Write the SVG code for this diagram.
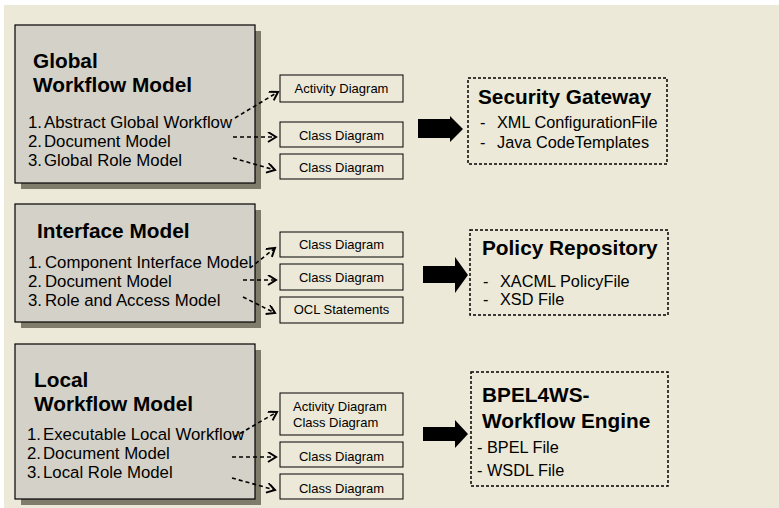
<svg xmlns="http://www.w3.org/2000/svg" width="779" height="508" viewBox="0 0 779 508">
<defs>
<style>
.bg{fill:#ECE9D8}
.model{fill:#D4D2C8;stroke:#000;stroke-width:1.2}
.shadow{fill:#7F7C6C}
.art{fill:#ECE9D8;stroke:#000;stroke-width:1}
.tgt{fill:none;stroke:#000;stroke-width:1.5;stroke-dasharray:3,2}
.t{font-family:"Liberation Sans",Arial,sans-serif;fill:#000}
.title{font-size:20.8px;font-weight:bold}
.item{font-size:16.8px}
.item2{font-size:16.3px}
.small{font-size:13px}
.dash{fill:none;stroke:#000;stroke-width:1.6;stroke-dasharray:4,3}
.block{fill:#000}
</style>
<marker id="oh" markerWidth="12" markerHeight="12" refX="9" refY="5" orient="auto" markerUnits="userSpaceOnUse">
<path d="M1,0 L9,5 L1,10" fill="none" stroke="#000" stroke-width="2"/>
</marker>
</defs>
<rect x="0" y="0" width="779" height="508" fill="#fff"/>
<rect class="bg" x="4" y="5" width="775" height="503"/>

<g id="global-model">
<rect class="shadow" x="21" y="31" width="240" height="158"/>
<rect class="model" x="15" y="25" width="240" height="158"/>
<text class="t title" x="33" y="68">Global</text>
<text class="t title" x="33" y="92">Workflow Model</text>
<text class="t item" x="28" y="128">1.</text><text class="t item" x="44" y="128">Abstract Global Workflow</text>
<text class="t item" x="28" y="147">2.</text><text class="t item" x="44" y="147">Document Model</text>
<text class="t item" x="28" y="166">3.</text><text class="t item" x="44" y="166">Global Role Model</text>
</g>

<g id="interface-model">
<rect class="shadow" x="21" y="210" width="240" height="118"/>
<rect class="model" x="15" y="204" width="240" height="118"/>
<text class="t title" x="37" y="238">Interface Model</text>
<text class="t item" x="28" y="268">1.</text><text class="t item" x="45" y="268">Component Interface Model</text>
<text class="t item" x="28" y="287">2.</text><text class="t item" x="45" y="287">Document Model</text>
<text class="t item" x="28" y="306">3.</text><text class="t item" x="45" y="306">Role and Access Model</text>
</g>

<g id="local-model">
<rect class="shadow" x="21" y="350" width="240" height="155"/>
<rect class="model" x="15" y="344" width="240" height="155"/>
<text class="t title" x="34" y="387">Local</text>
<text class="t title" x="34" y="411">Workflow Model</text>
<text class="t item" x="27" y="440">1.</text><text class="t item" x="43" y="440">Executable Local Workflow</text>
<text class="t item" x="27" y="459">2.</text><text class="t item" x="43" y="459">Document Model</text>
<text class="t item" x="27" y="478">3.</text><text class="t item" x="43" y="478">Local Role Model</text>
</g>

<g id="g-activity"><rect class="art" x="280" y="75" width="123" height="27"/><text class="t small" x="341.5" y="93" text-anchor="middle">Activity Diagram</text></g>
<g id="g-class1"><rect class="art" x="280" y="122" width="123" height="25"/><text class="t small" x="341.5" y="140" text-anchor="middle">Class Diagram</text></g>
<g id="g-class2"><rect class="art" x="280" y="154" width="123" height="25"/><text class="t small" x="341.5" y="172" text-anchor="middle">Class Diagram</text></g>

<g id="i-class1"><rect class="art" x="280" y="232" width="123" height="25"/><text class="t small" x="341.5" y="249" text-anchor="middle">Class Diagram</text></g>
<g id="i-class2"><rect class="art" x="280" y="264" width="123" height="26"/><text class="t small" x="341.5" y="282" text-anchor="middle">Class Diagram</text></g>
<g id="i-ocl"><rect class="art" x="280" y="297" width="123" height="26"/><text class="t small" x="341.5" y="314" text-anchor="middle">OCL Statements</text></g>

<g id="l-activity-class"><rect class="art" x="280" y="393" width="123" height="42"/><text class="t small" x="293" y="411">Activity Diagram</text><text class="t small" x="293" y="427">Class Diagram</text></g>
<g id="l-class1"><rect class="art" x="280" y="442" width="123" height="25"/><text class="t small" x="341.5" y="461" text-anchor="middle">Class Diagram</text></g>
<g id="l-class2"><rect class="art" x="280" y="474" width="123" height="25"/><text class="t small" x="341.5" y="493" text-anchor="middle">Class Diagram</text></g>

<g id="security-gateway">
<rect class="tgt" x="468" y="78" width="199" height="86"/>
<text class="t title" x="478" y="104">Security Gateway</text>
<text class="t item2" x="480" y="128">-</text><text class="t item2" x="497" y="128">XML ConfigurationFile</text>
<text class="t item2" x="480" y="148">-</text><text class="t item2" x="497" y="148">Java CodeTemplates</text>
</g>

<g id="policy-repository">
<rect class="tgt" x="470" y="230" width="198" height="85"/>
<text class="t title" x="482" y="255">Policy Repository</text>
<text class="t item2" x="483" y="287">-</text><text class="t item2" x="500" y="287">XACML PolicyFile</text>
<text class="t item2" x="483" y="305">-</text><text class="t item2" x="500" y="305">XSD File</text>
</g>

<g id="bpel-engine">
<rect class="tgt" x="471" y="372" width="197" height="114"/>
<text class="t title" x="482" y="402">BPEL4WS-</text>
<text class="t title" x="482" y="428">Workflow Engine</text>
<text class="t item2" x="477" y="453">-</text><text class="t item2" x="487" y="453">BPEL File</text>
<text class="t item2" x="477" y="476">-</text><text class="t item2" x="487" y="476">WSDL File</text>
</g>

<g id="connectors">
<path class="dash" d="M235,118 L278,92" marker-end="url(#oh)"/>
<path class="dash" d="M233,137 L276,137" marker-end="url(#oh)"/>
<path class="dash" d="M233,158 L275,170" marker-end="url(#oh)"/>
<path class="dash" d="M250,268 L275,248" marker-end="url(#oh)"/>
<path class="dash" d="M243,280 L276,280" marker-end="url(#oh)"/>
<path class="dash" d="M243,297 L275,313" marker-end="url(#oh)"/>
<path class="dash" d="M234,437 L277,412" marker-end="url(#oh)"/>
<path class="dash" d="M232,457 L276,457" marker-end="url(#oh)"/>
<path class="dash" d="M232,478 L275,490" marker-end="url(#oh)"/>
<polygon class="block" points="418,119 450,119 450,116 463,129 450,142 450,138 418,138"/>
<polygon class="block" points="423,266 455,266 455,257 468,275 455,293 455,283 423,283"/>
<polygon class="block" points="423,427 455,427 455,420 468,434 455,448 455,441 423,441"/>
</g>
</svg>
